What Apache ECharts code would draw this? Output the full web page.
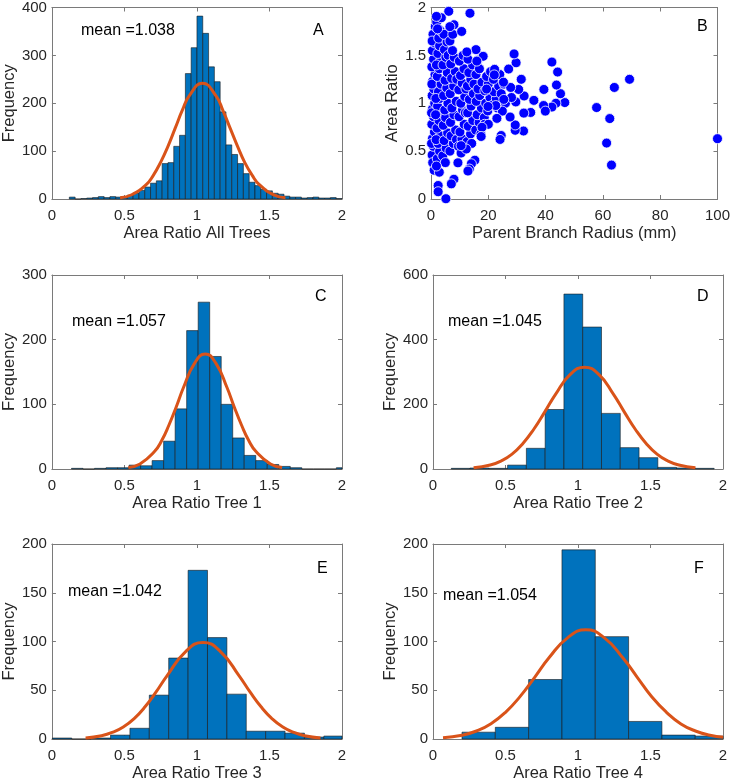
<!DOCTYPE html>
<html>
<head>
<meta charset="utf-8">
<script src="https://cdn.jsdelivr.net/npm/echarts@6/dist/echarts.min.js"></script>
<style>
html, body { margin: 0; padding: 0; background: #fff; }
#main { width: 733px; height: 783px; }
</style>
</head>
<body>
<div id="main"></div>
<script>
// histogram bins: first left edge, bin width, counts
var binStartA = 0.12, binWidthA = 0.04;
var countsA = [4, 0, 1, 2, 3, 5, 3, 5, 4, 5, 8, 12, 18, 25, 33, 38, 74, 76, 110, 133,
    262, 316, 382, 346, 276, 245, 182, 113, 93, 74, 53, 35, 28, 20, 17, 12, 10, 6, 4, 4,
    2, 3, 4, 2, 2, 3, 1];
var binStartC = 0.135, binWidthC = 0.0794;
var countsC = [1, 0, 1, 2, 2, 6, 5, 13, 43, 93, 214, 258, 174, 100, 48, 21, 13, 7, 4, 2, 0, 0, 0, 2];
var binStartD = 0.126, binWidthD = 0.1295;
var countsD = [2, 3, 2, 12, 64, 184, 541, 439, 172, 66, 35, 5, 3, 2];
var binStartE = 0.003, binWidthE = 0.1337;
var countsE = [1, 0, 1, 4, 11, 45, 83, 173, 104, 46, 8, 8, 6, 2, 3];
var binStartF = 0.2, binWidthF = 0.2298;
var countsF = [7, 12, 61, 194, 105, 18, 4, 3];

// fitted normal curves [x, frequency]
var curveA = [[0.47, 2.8], [0.55, 8.9], [0.65, 30], [0.70, 50], [0.75, 77], [0.80, 110], [0.85, 148],
    [0.90, 186], [0.95, 217], [1.038, 242], [1.13, 216], [1.18, 184], [1.23, 147], [1.28, 110],
    [1.33, 76], [1.38, 50], [1.43, 30], [1.53, 8.8], [1.61, 2.7]];
var curveC = [[0.527, 2.3], [0.607, 7.8], [0.707, 27], [0.757, 44], [0.807, 68], [0.857, 96],
    [0.907, 126], [0.982, 163], [1.057, 178], [1.132, 163], [1.207, 126], [1.257, 96], [1.307, 68],
    [1.357, 44], [1.407, 27], [1.507, 7.8], [1.587, 2.3]];
var curveD = [[0.28, 3.5], [0.395, 12.2], [0.47, 24.8], [0.545, 46], [0.62, 79], [0.695, 123],
    [0.77, 176], [0.845, 231], [0.945, 292], [1.045, 315], [1.145, 292], [1.245, 231], [1.32, 176],
    [1.395, 123], [1.47, 79], [1.545, 46], [1.62, 24.8], [1.695, 12.2], [1.81, 3.5]];
var curveE = [[0.232, 1.1], [0.342, 3.4], [0.417, 6.8], [0.492, 12.4], [0.567, 21], [0.642, 33],
    [0.717, 48], [0.792, 64.5], [0.922, 89.7], [1.042, 99], [1.162, 89.7], [1.292, 64.5], [1.367, 48],
    [1.442, 33], [1.517, 21], [1.592, 12.4], [1.667, 6.8], [1.742, 3.4], [1.852, 1.1]];
var curveF = [[0.069, 1.3], [0.2, 3.9], [0.3, 8.2], [0.4, 15.7], [0.5, 27.4], [0.6, 43.5], [0.7, 63],
    [0.8, 83.3], [0.93, 104], [1.054, 112], [1.18, 104], [1.31, 83], [1.41, 63], [1.51, 43],
    [1.61, 27.4], [1.71, 15.5], [1.81, 8.2], [1.91, 3.9], [2.0, 1.8]];

var means = ['1.038', '1.057', '1.045', '1.042', '1.054'];

// panel B: parent branch radius (mm) vs area ratio
var scatterB = [
    [0.4, 0.46], [0.8, 0.55], [0.5, 0.63], [1.2, 0.7], [0.3, 0.78], [0.9, 0.86], [0.5, 0.94], [1.3, 1.0],
    [0.4, 1.08], [1.0, 1.15], [0.6, 1.23], [1.4, 1.3], [0.3, 1.38], [0.9, 1.46], [0.5, 1.55], [1.2, 1.63],
    [0.7, 1.72], [1.5, 1.8], [0.6, 0.38], [1.1, 0.3], [0.2, 0.58], [0.3, 1.2], [0.2, 0.9], [0.4, 1.65],
    [2.2, 0.42], [3.0, 0.5], [2.5, 0.58], [3.3, 0.66], [2.1, 0.74], [2.8, 0.82], [3.4, 0.9], [2.3, 0.97],
    [3.1, 1.05], [2.6, 1.12], [3.5, 1.2], [2.2, 1.28], [2.9, 1.36], [3.3, 1.44], [2.4, 1.52], [3.0, 1.6],
    [2.7, 1.68], [2.0, 1.85], [3.2, 1.76], [2.9, 0.28], [1.8, 0.62], [1.7, 1.05], [1.9, 1.4], [1.6, 0.88],
    [4.1, 0.45], [5.3, 0.53], [4.6, 0.61], [5.8, 0.69], [4.3, 0.77], [5.1, 0.85], [4.8, 0.93], [5.9, 1.0],
    [4.4, 1.08], [5.5, 1.16], [4.9, 1.24], [5.7, 1.32], [4.2, 1.4], [5.2, 1.48], [4.7, 1.56], [5.6, 1.64],
    [4.5, 1.72], [6.0, 1.5], [5.0, 0.38],
    [6.6, 0.5], [7.8, 0.58], [7.0, 0.66], [8.6, 0.72], [6.8, 0.8], [8.0, 0.88], [7.3, 0.95], [8.8, 1.02],
    [6.7, 1.1], [7.9, 1.18], [7.2, 1.26], [8.5, 1.33], [6.9, 1.41], [8.1, 1.48], [7.5, 1.55], [6.6, 1.65],
    [8.9, 0.62], [7.6, 1.72], [9.0, 1.25],
    [9.6, 0.55], [10.8, 0.63], [10.1, 0.7], [11.6, 0.78], [9.8, 0.86], [11.0, 0.93], [10.4, 1.0],
    [11.8, 1.07], [9.7, 1.14], [10.9, 1.21], [10.3, 1.29], [11.5, 1.36], [9.9, 1.44], [11.2, 1.5],
    [10.5, 0.48], [12.0, 0.9], [12.2, 1.15],
    [12.6, 0.6], [13.8, 0.68], [13.0, 0.76], [14.6, 0.82], [12.8, 0.9], [14.0, 0.97], [13.4, 1.04],
    [14.8, 1.1], [12.7, 1.18], [13.9, 1.25], [13.2, 1.32], [14.5, 1.4], [12.9, 1.46], [14.2, 0.58], [15.0, 1.2],
    [15.6, 0.72], [16.8, 0.8], [16.1, 0.88], [17.6, 0.95], [15.8, 1.02], [17.0, 1.08], [16.4, 1.15],
    [17.8, 1.22], [15.7, 1.3], [16.9, 1.36], [16.3, 1.45], [17.4, 0.68],
    [18.6, 0.85], [19.8, 0.92], [19.1, 1.0], [20.6, 1.06], [18.8, 1.13], [20.0, 1.2], [19.4, 1.28],
    [20.8, 1.33], [18.7, 0.78],
    [21.5, 0.98], [22.8, 1.05], [22.0, 1.12], [23.6, 1.18], [21.8, 1.25], [24.5, 1.1], [23.2, 0.95],
    [25.5, 1.2], [24.0, 1.3], [26.0, 1.0],
    [100, 0.63], [69.3, 1.25], [64.0, 1.165], [62.4, 0.84], [61.3, 0.584], [63.0, 0.354], [57.8, 0.955],
    [46.7, 1.007], [45.2, 1.10], [44.2, 1.326], [43.8, 1.19], [43.6, 1.0], [42.2, 1.43], [42.2, 0.96],
    [39.4, 1.144], [39.3, 0.976], [39.9, 0.918], [35.9, 1.03], [34.8, 0.904], [32.3, 0.71], [32.4, 0.897],
    [32.5, 1.076], [31.5, 1.25], [30.6, 1.144], [29.6, 1.014], [29.7, 1.423], [29.0, 1.515], [29.4, 0.718],
    [29.4, 0.773], [27.1, 1.357], [27.6, 0.856], [27.8, 1.165], [28.1, 1.06], [25.3, 1.22], [25.4, 1.04],
    [24.9, 0.918], [24.5, 0.663], [24.1, 0.622], [23.0, 0.842], [22.6, 0.976], [22.2, 1.354], [22.1, 1.296],
    [19.9, 0.966], [20.0, 0.78], [19.4, 1.148], [18.2, 1.49], [17.8, 0.749], [17.5, 0.653], [15.7, 1.56],
    [16.0, 1.44], [15.3, 0.405], [14.1, 0.368], [13.4, 0.313], [12.9, 0.292], [13.6, 1.94], [6.2, 1.96],
    [12.5, 1.536], [10.7, 1.75], [8.0, 1.82], [6.6, 1.80], [9.4, 0.378], [8.0, 0.206], [7.1, 0.158],
    [5.2, 0.003], [2.5, 0.141], [2.5, 0.076], [1.9, 0.344], [3.6, 1.893], [2.3, 1.777], [1.9, 1.907],
    [12.3, 0.522], [10.5, 0.557]
];

var FONT = '"Liberation Sans", Arial, sans-serif';
var AXC = '#7a7a7a';

function bins(start, width, counts) {
    var out = [];
    for (var i = 0; i < counts.length; i++) {
        out.push([start + i * width, start + (i + 1) * width, counts[i]]);
    }
    return out;
}

function renderBin(params, api) {
    var p0 = api.coord([api.value(0), api.value(2)]);
    var p1 = api.coord([api.value(1), 0]);
    var cs = params.coordSys;
    var shape = echarts.graphic.clipRectByRect(
        {x: p0[0], y: p0[1], width: p1[0] - p0[0], height: p1[1] - p0[1]},
        {x: cs.x, y: cs.y, width: cs.width, height: cs.height}
    );
    if (!shape) return;
    return {
        type: 'rect',
        shape: shape,
        style: {fill: '#0072BD', stroke: '#1a1a1a', lineWidth: 0.6}
    };
}

var grids = [
    {left: 51, top: 5, width: 291, height: 194},
    {left: 431, top: 5, width: 291, height: 194},
    {left: 51, top: 275, width: 291, height: 194},
    {left: 433, top: 275, width: 290, height: 194},
    {left: 51, top: 544, width: 291, height: 195},
    {left: 433, top: 544, width: 290, height: 195}
];
var xNames = ['Area Ratio All Trees', 'Parent Branch Radius (mm)', 'Area Ratio Tree 1',
    'Area Ratio Tree 2', 'Area Ratio Tree 3', 'Area Ratio Tree 4'];
var yNames = ['Frequency', 'Area Ratio', 'Frequency', 'Frequency', 'Frequency', 'Frequency'];
var xRange = [[0, 2, 0.5], [0, 100, 20], [0, 2, 0.5], [0, 2, 0.5], [0, 2, 0.5], [0, 2, 0.5]];
var yRange = [[0, 400, 100], [0, 2, 0.5], [0, 300, 100], [0, 600, 200], [0, 200, 50], [0, 200, 50]];

var xAxes = [], yAxes = [];
for (var i = 0; i < 6; i++) {
    var common = {
        gridIndex: i,
        type: 'value',
        axisLine: {show: true, onZero: false, lineStyle: {color: AXC, width: 1}},
        axisTick: {show: true, inside: true, length: 4, lineStyle: {color: AXC}},
        splitLine: {show: false}
    };
    xAxes.push(Object.assign({}, common, {
        position: 'bottom',
        min: xRange[i][0], max: xRange[i][1], interval: xRange[i][2],
        axisLabel: {color: '#262626', fontSize: 15, fontFamily: FONT, margin: 9},
        name: xNames[i], nameLocation: 'middle', nameGap: 26,
        nameTextStyle: {color: '#262626', fontSize: 16.5, fontFamily: FONT}
    }));
    xAxes.push(Object.assign({}, common, {
        position: 'top',
        min: xRange[i][0], max: xRange[i][1], interval: xRange[i][2],
        axisLabel: {show: false}
    }));
    yAxes.push(Object.assign({}, common, {
        position: 'left',
        min: yRange[i][0], max: yRange[i][1], interval: yRange[i][2],
        axisLabel: {color: '#262626', fontSize: 15, fontFamily: FONT, margin: 5},
        name: yNames[i], nameLocation: 'middle', nameGap: i === 1 ? 29 : 31,
        nameTextStyle: {color: '#262626', fontSize: 16.5, fontFamily: FONT}
    }));
    yAxes.push(Object.assign({}, common, {
        position: 'right',
        min: yRange[i][0], max: yRange[i][1], interval: yRange[i][2],
        axisLabel: {show: false}
    }));
}

var histPanels = [
    {g: 0, data: bins(binStartA, binWidthA, countsA), curve: curveA},
    {g: 2, data: bins(binStartC, binWidthC, countsC), curve: curveC},
    {g: 3, data: bins(binStartD, binWidthD, countsD), curve: curveD},
    {g: 4, data: bins(binStartE, binWidthE, countsE), curve: curveE},
    {g: 5, data: bins(binStartF, binWidthF, countsF), curve: curveF}
];

var series = [];
histPanels.forEach(function (p) {
    series.push({
        type: 'custom',
        xAxisIndex: p.g * 2,
        yAxisIndex: p.g * 2,
        renderItem: renderBin,
        encode: {x: [0, 1], y: 2},
        data: p.data,
        silent: true
    });
    series.push({
        type: 'line',
        xAxisIndex: p.g * 2,
        yAxisIndex: p.g * 2,
        data: p.curve,
        smooth: true,
        showSymbol: false,
        lineStyle: {color: '#D95319', width: 3},
        z: 5,
        silent: true
    });
});
series.push({
    type: 'scatter',
    xAxisIndex: 2,
    yAxisIndex: 2,
    data: scatterB,
    symbolSize: 10,
    itemStyle: {color: '#0000FF', borderColor: '#ffffff', borderWidth: 0.8, opacity: 1},
    silent: true
});

function txt(t, x, y) {
    return {
        type: 'text', x: x, y: y, z: 10,
        style: {text: t, fill: '#000', font: '16px ' + FONT, textVerticalAlign: 'middle'}
    };
}

var graphic = [
    txt('mean =' + means[0], 81, 31), txt('A', 313, 31),
    txt('B', 697, 27),
    txt('mean =' + means[1], 72, 322), txt('C', 315, 297),
    txt('mean =' + means[2], 448, 322), txt('D', 697, 297),
    txt('mean =' + means[3], 68, 592), txt('E', 317, 569),
    txt('mean =' + means[4], 443, 596), txt('F', 694, 569)
];

var myChart = echarts.init(document.getElementById('main'), null, {renderer: 'canvas'});
myChart.setOption({
    animation: false,
    backgroundColor: '#fff',
    grid: grids,
    xAxis: xAxes,
    yAxis: yAxes,
    graphic: graphic,
    series: series
});
</script>
</body>
</html>
